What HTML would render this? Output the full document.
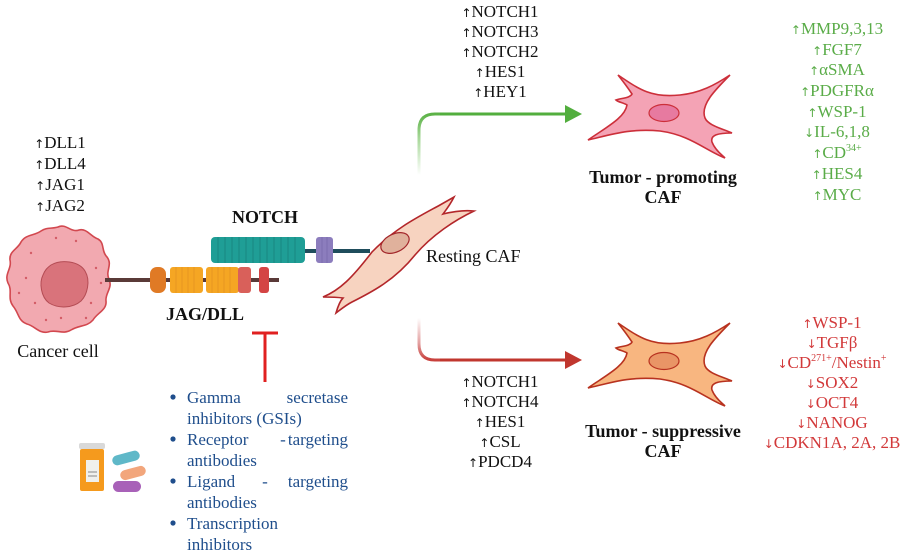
<!DOCTYPE html>
<html><head><meta charset="utf-8"><style>
html,body{margin:0;padding:0;background:#fff;}
svg text{font-family:"Liberation Serif",serif;}
.a{font-size:12px;font-family:"DejaVu Sans",sans-serif;}
</style></head><body>
<svg width="913" height="552" viewBox="0 0 913 552" xmlns="http://www.w3.org/2000/svg">
<defs>
<linearGradient id="gg" x1="0" y1="1" x2="0" y2="0"><stop offset="0" stop-color="#fff"/><stop offset="0.6" stop-color="#a8d89a"/><stop offset="1" stop-color="#5cb247"/></linearGradient>
<linearGradient id="rg" x1="0" y1="0" x2="0" y2="1"><stop offset="0" stop-color="#fff"/><stop offset="0.6" stop-color="#e3a0a0"/><stop offset="1" stop-color="#c8403c"/></linearGradient>
</defs>

<g font-size="17" text-anchor="middle" fill="#111">
<text x="60" y="148"><tspan class="a">↑</tspan>DLL1</text>
<text x="60" y="169"><tspan class="a">↑</tspan>DLL4</text>
<text x="60" y="190"><tspan class="a">↑</tspan>JAG1</text>
<text x="60" y="211"><tspan class="a">↑</tspan>JAG2</text>
</g>

<g transform="translate(1,-17)">
<path d="M57,244 C65,240 70,250 78,247 C86,245 90,254 97,256 C104,260 100,268 106,274 C112,282 104,288 108,296 C112,305 104,310 105,318 C106,327 96,330 92,337 C86,344 78,342 70,347 C62,352 55,346 47,349 C38,351 34,343 26,341 C17,338 18,330 12,323 C6,315 12,308 7,300 C3,291 11,286 9,277 C8,268 17,266 20,259 C25,251 33,253 40,248 C46,244 50,246 57,244 Z" fill="#f2a9b0" stroke="#d2484f" stroke-width="1.6"/>
<path d="M50,282 C60,276 78,278 84,288 C90,298 86,312 80,318 C72,325 58,326 48,320 C40,314 38,300 42,292 C44,287 46,285 50,282 Z" fill="#d9737b" stroke="#b44c54" stroke-width="1"/>
<g fill="#d35c66">
<circle cx="30" cy="270" r="1.2"/><circle cx="25" cy="295" r="1.2"/><circle cx="34" cy="320" r="1.2"/><circle cx="60" cy="335" r="1.2"/><circle cx="90" cy="320" r="1.2"/><circle cx="95" cy="285" r="1.2"/><circle cx="75" cy="258" r="1.2"/><circle cx="55" cy="255" r="1.2"/><circle cx="18" cy="310" r="1.2"/><circle cx="45" cy="337" r="1.2"/><circle cx="100" cy="300" r="1.2"/><circle cx="85" cy="335" r="1.2"/>
</g>
</g>
<text x="58" y="357" font-size="18" text-anchor="middle" fill="#111">Cancer cell</text>

<line x1="105" y1="280" x2="279" y2="280" stroke="#5a3a38" stroke-width="4"/>
<rect x="150" y="267" width="16" height="26" rx="7" fill="#e07a25"/>
<g fill="#f5a623">
<rect x="170" y="267" width="33" height="26" rx="3"/>
<rect x="206" y="267" width="33" height="26" rx="3"/>
</g>
<g stroke="#e49320" stroke-width="0.8">
<line x1="176" y1="267" x2="176" y2="293"/><line x1="182" y1="267" x2="182" y2="293"/><line x1="188" y1="267" x2="188" y2="293"/><line x1="194" y1="267" x2="194" y2="293"/>
<line x1="212" y1="267" x2="212" y2="293"/><line x1="218" y1="267" x2="218" y2="293"/><line x1="224" y1="267" x2="224" y2="293"/><line x1="230" y1="267" x2="230" y2="293"/>
</g>
<rect x="238" y="267" width="13" height="26" rx="3" fill="#d9605a"/>
<rect x="259" y="267" width="10" height="26" rx="3" fill="#d44444"/>
<text x="205" y="320" font-size="18" font-weight="bold" text-anchor="middle" fill="#111">JAG/DLL</text>

<line x1="305" y1="251" x2="370" y2="251" stroke="#1f4d5c" stroke-width="4"/>
<rect x="211" y="237" width="94" height="26" rx="4" fill="#1f9e96"/>
<g stroke="#17827b" stroke-width="0.8">
<line x1="218" y1="237" x2="218" y2="263"/><line x1="225" y1="237" x2="225" y2="263"/><line x1="232" y1="237" x2="232" y2="263"/><line x1="239" y1="237" x2="239" y2="263"/><line x1="246" y1="237" x2="246" y2="263"/><line x1="253" y1="237" x2="253" y2="263"/><line x1="260" y1="237" x2="260" y2="263"/><line x1="267" y1="237" x2="267" y2="263"/><line x1="274" y1="237" x2="274" y2="263"/><line x1="281" y1="237" x2="281" y2="263"/><line x1="288" y1="237" x2="288" y2="263"/><line x1="295" y1="237" x2="295" y2="263"/>
</g>
<rect x="316" y="237" width="17" height="26" rx="3" fill="#8c7dbd"/>
<line x1="322" y1="237" x2="322" y2="263" stroke="#7a6aab" stroke-width="0.8"/><line x1="327" y1="237" x2="327" y2="263" stroke="#7a6aab" stroke-width="0.8"/>
<text x="265" y="223" font-size="18" font-weight="bold" text-anchor="middle" fill="#111">NOTCH</text>

<path d="M323,297 C340,290 352,278 372,252 C395,228 420,216 440,205 L454,197 C450,205 446,210 443,214 C455,211 465,210 474,211 C455,220 432,235 415,255 C395,280 372,292 352,302 C346,305 340,310 336,313 C338,306 340,301 343,298 C336,297 329,297 323,297 Z" fill="#f7d3c0" stroke="#b3262a" stroke-width="1.6"/>
<ellipse cx="395" cy="243" rx="15" ry="9" transform="rotate(-25 395 243)" fill="#e0b19c" stroke="#a3262a" stroke-width="1.2"/>
<text x="426" y="262" font-size="18" fill="#111">Resting CAF</text>

<path d="M419,175 L419,130 Q419,114 435,114 L567,114" fill="none" stroke="url(#gg)" stroke-width="3"/>
<line x1="440" y1="114" x2="567" y2="114" stroke="#52ae3e" stroke-width="3"/>
<polygon points="565,105 582,114 565,123" fill="#52ae3e"/>
<path d="M419,318 L419,344 Q419,360 435,360 L567,360" fill="none" stroke="url(#rg)" stroke-width="3"/>
<line x1="440" y1="360" x2="567" y2="360" stroke="#c0362e" stroke-width="3"/>
<polygon points="565,351 582,360 565,369" fill="#c0362e"/>

<g font-size="17" text-anchor="middle" fill="#111">
<text x="500" y="17"><tspan class="a">↑</tspan>NOTCH1</text>
<text x="500" y="37"><tspan class="a">↑</tspan>NOTCH3</text>
<text x="500" y="57"><tspan class="a">↑</tspan>NOTCH2</text>
<text x="500" y="77"><tspan class="a">↑</tspan>HES1</text>
<text x="500" y="97"><tspan class="a">↑</tspan>HEY1</text>
</g>
<g font-size="17" text-anchor="middle" fill="#111">
<text x="500" y="387"><tspan class="a">↑</tspan>NOTCH1</text>
<text x="500" y="407"><tspan class="a">↑</tspan>NOTCH4</text>
<text x="500" y="427"><tspan class="a">↑</tspan>HES1</text>
<text x="500" y="447"><tspan class="a">↑</tspan>CSL</text>
<text x="500" y="467"><tspan class="a">↑</tspan>PDCD4</text>
</g>

<path d="M618,75 C640,90 652,98 680,95 C700,93 715,85 730,75 C715,90 700,105 705,118 C708,125 720,128 732,133 C718,133 710,135 712,142 C715,150 722,155 725,158 C705,150 690,135 660,131 C630,128 610,135 588,140 C605,128 625,118 627,105 C624,103 618,102 616,100 C622,98 630,98 632,94 C628,88 622,80 618,75 Z" fill="#f4a3b5" stroke="#cc2f3a" stroke-width="1.6"/>
<ellipse cx="664" cy="113" rx="15" ry="8.5" fill="#e77aa0" stroke="#cc2f3a" stroke-width="1.2"/>
<text x="663" y="183" font-size="18" font-weight="bold" text-anchor="middle" fill="#111">Tumor - promoting</text>
<text x="663" y="203" font-size="18" font-weight="bold" text-anchor="middle" fill="#111">CAF</text>

<g transform="translate(0,248)">
<path d="M618,75 C640,90 652,98 680,95 C700,93 715,85 730,75 C715,90 700,105 705,118 C708,125 720,128 732,133 C718,133 710,135 712,142 C715,150 722,155 725,158 C705,150 690,135 660,131 C630,128 610,135 588,140 C605,128 625,118 627,105 C624,103 618,102 616,100 C622,98 630,98 632,94 C628,88 622,80 618,75 Z" fill="#f8b680" stroke="#b8321f" stroke-width="1.6"/>
<ellipse cx="664" cy="113" rx="15" ry="8.5" fill="#e99566" stroke="#b8321f" stroke-width="1.2"/>
</g>
<text x="663" y="437" font-size="18" font-weight="bold" text-anchor="middle" fill="#111">Tumor - suppressive</text>
<text x="663" y="457" font-size="18" font-weight="bold" text-anchor="middle" fill="#111">CAF</text>

<g font-size="17" text-anchor="middle" fill="#5aac48">
<text x="837" y="34"><tspan class="a">↑</tspan>MMP9,3,13</text>
<text x="837" y="55"><tspan class="a">↑</tspan>FGF7</text>
<text x="837" y="75"><tspan class="a">↑</tspan>αSMA</text>
<text x="837" y="96"><tspan class="a">↑</tspan>PDGFRα</text>
<text x="837" y="117"><tspan class="a">↑</tspan>WSP-1</text>
<text x="837" y="137"><tspan class="a">↓</tspan>IL-6,1,8</text>
<text x="837" y="158"><tspan class="a">↑</tspan>CD<tspan font-size="10" dy="-7">34+</tspan></text>
<text x="837" y="179"><tspan class="a">↑</tspan>HES4</text>
<text x="837" y="200"><tspan class="a">↑</tspan>MYC</text>
</g>

<g font-size="17" text-anchor="middle" fill="#d2393a">
<text x="832" y="328"><tspan class="a">↑</tspan>WSP-1</text>
<text x="832" y="348"><tspan class="a">↓</tspan>TGFβ</text>
<text x="832" y="368"><tspan class="a">↓</tspan>CD<tspan font-size="10" dy="-7">271+</tspan><tspan dy="7">/Nestin</tspan><tspan font-size="10" dy="-7">+</tspan></text>
<text x="832" y="388"><tspan class="a">↓</tspan>SOX2</text>
<text x="832" y="408"><tspan class="a">↓</tspan>OCT4</text>
<text x="832" y="428"><tspan class="a">↓</tspan>NANOG</text>
<text x="832" y="448"><tspan class="a">↓</tspan>CDKN1A, 2A, 2B</text>
</g>

<line x1="252" y1="333" x2="278" y2="333" stroke="#e02020" stroke-width="3"/>
<line x1="265" y1="333" x2="265" y2="382" stroke="#e02020" stroke-width="3"/>

<g fill="#1f4e8c" font-size="17">
<circle cx="173" cy="397" r="2.6"/><circle cx="173" cy="439" r="2.6"/><circle cx="173" cy="481" r="2.6"/><circle cx="173" cy="523" r="2.6"/>
<text x="187" y="403">Gamma</text><text x="348" y="403" text-anchor="end">secretase</text>
<text x="187" y="424">inhibitors (GSIs)</text>
<text x="187" y="445">Receptor</text><text x="283" y="445" text-anchor="middle">-</text><text x="348" y="445" text-anchor="end">targeting</text>
<text x="187" y="466">antibodies</text>
<text x="187" y="487">Ligand</text><text x="265" y="487" text-anchor="middle">-</text><text x="348" y="487" text-anchor="end">targeting</text>
<text x="187" y="508">antibodies</text>
<text x="187" y="529">Transcription</text>
<text x="187" y="550">inhibitors</text>
</g>

<rect x="79" y="443" width="26" height="6" rx="2" fill="#d9d9d9"/>
<rect x="80" y="449" width="24" height="42" rx="2" fill="#f59a1d"/>
<rect x="86" y="460" width="13" height="22" fill="#f0f0ec"/>
<line x1="88" y1="472" x2="97" y2="472" stroke="#888" stroke-width="1"/><line x1="88" y1="476" x2="97" y2="476" stroke="#888" stroke-width="1"/>
<rect x="112" y="453" width="28" height="10" rx="5" transform="rotate(-15 126 458)" fill="#5fb8c8"/>
<rect x="120" y="468" width="26" height="10" rx="5" transform="rotate(-15 133 473)" fill="#f2a67c"/>
<rect x="113" y="481" width="28" height="11" rx="5.5" fill="#a861b8"/>
</svg>
</body></html>
